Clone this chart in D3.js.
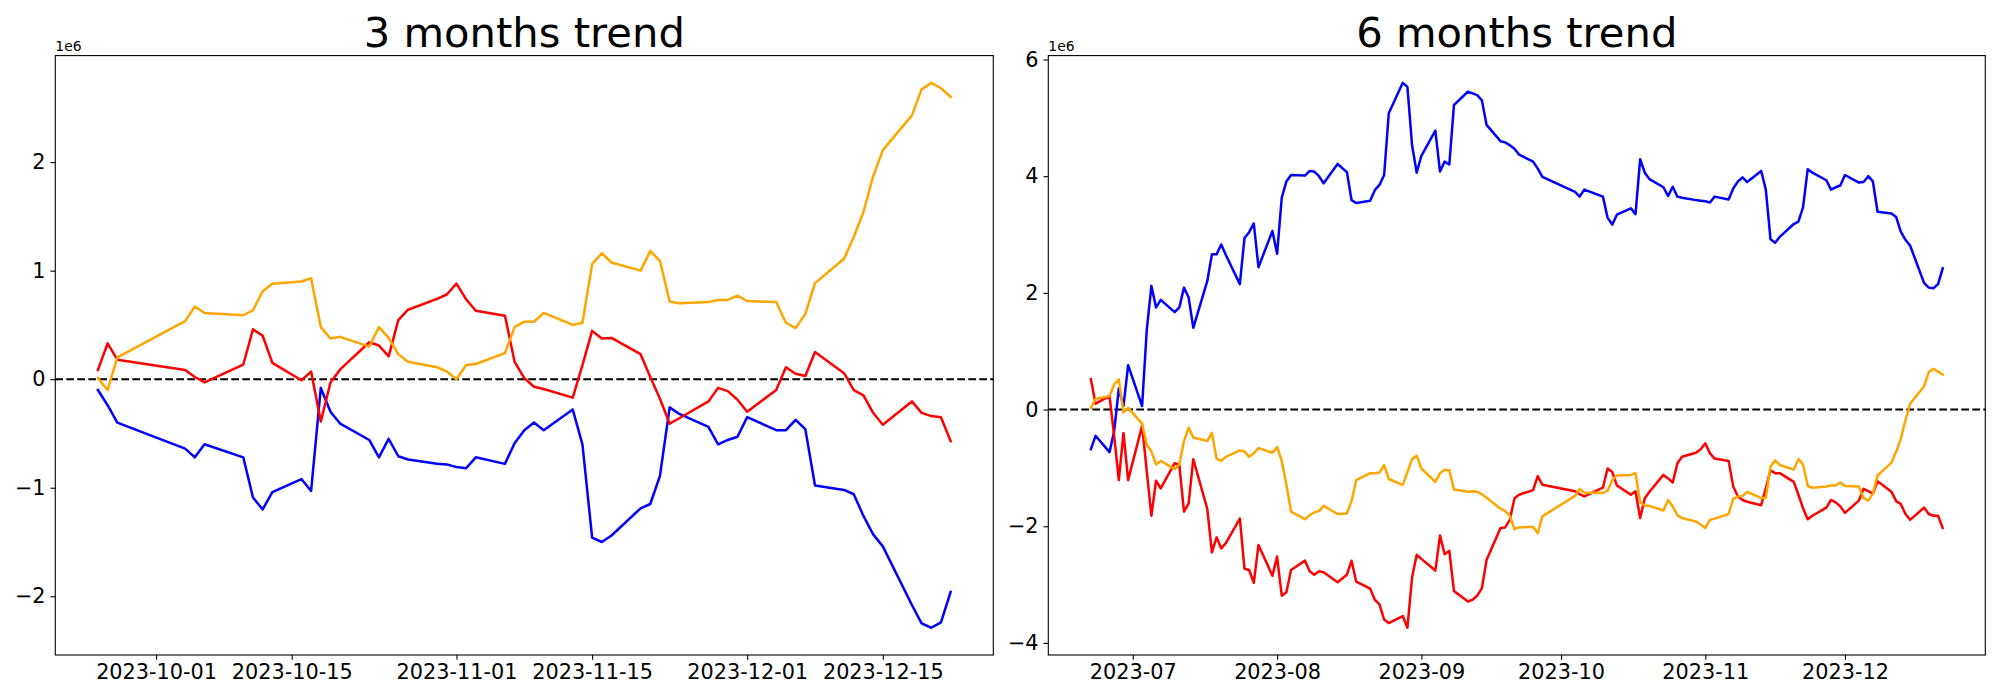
<!DOCTYPE html>
<html><head><meta charset="utf-8">
<script src="https://cdn.jsdelivr.net/npm/d3@7"></script>
<style>
body{margin:0;background:#fff}
svg{display:block}
text{font-family:"DejaVu Sans",sans-serif;fill:#000}
</style>
</head><body>
<svg id="chart" width="2000" height="700"></svg>
<script>
// ---------- DATA (values in units of 1e6) ----------
const dates3 = ["2023-09-25","2023-09-26","2023-09-27",
"2023-10-04","2023-10-05","2023-10-06","2023-10-10","2023-10-11","2023-10-12","2023-10-13","2023-10-16","2023-10-17","2023-10-18","2023-10-19","2023-10-20","2023-10-23","2023-10-24","2023-10-25","2023-10-26","2023-10-27","2023-10-30","2023-10-31",
"2023-11-01","2023-11-02","2023-11-03","2023-11-06","2023-11-07","2023-11-08","2023-11-09","2023-11-10","2023-11-13","2023-11-14","2023-11-15","2023-11-16","2023-11-17","2023-11-20","2023-11-21","2023-11-22","2023-11-23","2023-11-24","2023-11-27","2023-11-28","2023-11-29","2023-11-30",
"2023-12-01","2023-12-04","2023-12-05","2023-12-06","2023-12-07","2023-12-08","2023-12-11","2023-12-12","2023-12-13","2023-12-14","2023-12-15","2023-12-18","2023-12-19","2023-12-20","2023-12-21","2023-12-22"];
const blue3 = [-0.10,-0.24,-0.40,
-0.64,-0.72,-0.60,-0.72,-1.09,-1.20,-1.04,-0.92,-1.03,-0.08,-0.30,-0.41,-0.56,-0.72,-0.55,-0.71,-0.74,-0.78,-0.785,
-0.81,-0.82,-0.72,-0.78,-0.59,-0.47,-0.40,-0.47,-0.28,-0.60,-1.46,-1.50,-1.44,-1.19,-1.15,-0.89,-0.26,-0.32,-0.44,-0.60,-0.56,-0.53,
-0.35,-0.47,-0.47,-0.375,-0.46,-0.98,-1.02,-1.06,-1.26,-1.43,-1.54,-2.08,-2.25,-2.29,-2.24,-1.96];
const red3 = [0.085,0.33,0.18,
0.085,0.02,-0.03,0.135,0.46,0.40,0.15,-0.01,0.07,-0.39,-0.03,0.09,0.34,0.31,0.21,0.545,0.64,0.74,0.78,
0.88,0.735,0.63,0.585,0.16,0.01,-0.07,-0.09,-0.17,0.13,0.445,0.375,0.38,0.23,0.02,-0.18,-0.41,-0.36,-0.205,-0.08,-0.11,-0.19,
-0.30,-0.10,0.11,0.05,0.03,0.25,0.055,-0.10,-0.15,-0.31,-0.42,-0.205,-0.31,-0.34,-0.35,-0.57];
const orange3 = [0.01,-0.10,0.20,
0.535,0.67,0.61,0.59,0.635,0.81,0.88,0.90,0.93,0.48,0.375,0.39,0.30,0.48,0.38,0.23,0.16,0.11,0.07,
0.00,0.13,0.14,0.24,0.48,0.53,0.53,0.61,0.50,0.52,1.06,1.16,1.075,1.00,1.18,1.09,0.715,0.70,0.71,0.73,0.73,0.77,
0.72,0.71,0.52,0.47,0.60,0.885,1.11,1.31,1.54,1.87,2.11,2.43,2.67,2.73,2.68,2.60];

const dates6 = ["2023-06-22","2023-06-23","2023-06-26","2023-06-27","2023-06-28","2023-06-29","2023-06-30",
"2023-07-03","2023-07-04","2023-07-05","2023-07-06","2023-07-07","2023-07-10","2023-07-11","2023-07-12","2023-07-13","2023-07-14","2023-07-17","2023-07-18","2023-07-19","2023-07-20","2023-07-21","2023-07-24","2023-07-25","2023-07-26","2023-07-27","2023-07-28","2023-07-31",
"2023-08-01","2023-08-02","2023-08-03","2023-08-04","2023-08-07","2023-08-08","2023-08-09","2023-08-10","2023-08-11","2023-08-14","2023-08-16","2023-08-17","2023-08-18","2023-08-21","2023-08-22","2023-08-23","2023-08-24","2023-08-25","2023-08-28","2023-08-29","2023-08-30","2023-08-31",
"2023-09-01","2023-09-04","2023-09-05","2023-09-06","2023-09-07","2023-09-08","2023-09-11","2023-09-12","2023-09-13","2023-09-14","2023-09-15","2023-09-18","2023-09-19","2023-09-20","2023-09-21","2023-09-22","2023-09-25","2023-09-26","2023-09-27",
"2023-10-04","2023-10-05","2023-10-06","2023-10-10","2023-10-11","2023-10-12","2023-10-13","2023-10-16","2023-10-17","2023-10-18","2023-10-19","2023-10-20","2023-10-23","2023-10-24","2023-10-25","2023-10-26","2023-10-27","2023-10-30","2023-10-31",
"2023-11-01","2023-11-02","2023-11-03","2023-11-06","2023-11-07","2023-11-08","2023-11-09","2023-11-10","2023-11-13","2023-11-14","2023-11-15","2023-11-16","2023-11-17","2023-11-20","2023-11-21","2023-11-22","2023-11-23","2023-11-24","2023-11-27","2023-11-28","2023-11-29","2023-11-30",
"2023-12-01","2023-12-04","2023-12-05","2023-12-06","2023-12-07","2023-12-08","2023-12-11","2023-12-12","2023-12-13","2023-12-14","2023-12-15","2023-12-18","2023-12-19","2023-12-20","2023-12-21","2023-12-22"];
const blue6 = [-0.68,-0.45,-0.73,-0.37,0.36,0.06,0.76,
0.06,1.36,2.12,1.75,1.88,1.67,1.75,2.09,1.92,1.40,2.20,2.66,2.66,2.83,2.65,2.15,2.94,3.04,3.19,2.44,3.06,
2.67,3.63,3.91,4.02,4.01,4.09,4.08,4.00,3.88,4.21,4.07,3.59,3.54,3.58,3.76,3.85,4.02,5.08,5.60,5.53,4.53,4.06,
4.35,4.78,4.08,4.25,4.20,5.22,5.45,5.42,5.39,5.30,4.88,4.60,4.58,4.53,4.47,4.37,4.25,4.13,3.99,
3.73,3.65,3.77,3.65,3.29,3.17,3.34,3.45,3.35,4.29,4.06,3.95,3.81,3.66,3.82,3.65,3.63,3.59,3.58,
3.57,3.55,3.65,3.60,3.79,3.91,3.98,3.90,4.09,3.77,2.92,2.86,2.96,3.18,3.22,3.47,4.12,4.06,3.93,3.77,3.81,3.84,
4.02,3.89,3.90,4.00,3.91,3.39,3.36,3.30,3.05,2.91,2.81,2.17,2.09,2.08,2.15,2.42];
const red6 = [0.52,0.10,0.23,-0.45,-1.21,-0.40,-1.21,
-0.28,-1.05,-1.82,-1.22,-1.35,-0.92,-0.95,-1.75,-1.61,-0.85,-1.70,-2.45,-2.19,-2.38,-2.29,-1.87,-2.73,-2.75,-2.97,-2.32,-2.85,
-2.52,-3.19,-3.13,-2.75,-2.59,-2.77,-2.83,-2.77,-2.79,-2.96,-2.83,-2.59,-2.95,-3.07,-3.26,-3.34,-3.60,-3.66,-3.54,-3.74,-2.88,-2.49,
-2.56,-2.76,-2.16,-2.48,-2.42,-3.11,-3.29,-3.26,-3.19,-3.06,-2.58,-2.03,-2.02,-1.89,-1.52,-1.46,-1.38,-1.14,-1.29,
-1.40,-1.45,-1.49,-1.34,-1.01,-1.07,-1.30,-1.46,-1.40,-1.86,-1.52,-1.41,-1.12,-1.18,-1.25,-0.92,-0.81,-0.74,-0.68,
-0.58,-0.75,-0.84,-0.88,-1.32,-1.49,-1.55,-1.58,-1.64,-1.35,-1.04,-1.09,-1.09,-1.24,-1.46,-1.69,-1.88,-1.82,-1.68,-1.55,-1.59,-1.66,
-1.77,-1.56,-1.36,-1.40,-1.44,-1.23,-1.41,-1.57,-1.62,-1.79,-1.89,-1.68,-1.79,-1.82,-1.82,-2.03];
const orange6 = [0.03,0.18,0.23,0.43,0.52,-0.05,0.03,
-0.24,-0.60,-0.72,-0.94,-0.88,-1.02,-0.94,-0.54,-0.31,-0.48,-0.54,-0.40,-0.84,-0.88,-0.81,-0.70,-0.72,-0.81,-0.75,-0.66,-0.74,
-0.64,-0.88,-1.29,-1.75,-1.88,-1.81,-1.76,-1.74,-1.65,-1.79,-1.78,-1.57,-1.21,-1.09,-1.09,-1.08,-0.95,-1.19,-1.29,-1.07,-0.85,-0.79,
-1.01,-1.24,-1.09,-1.03,-1.04,-1.37,-1.41,-1.40,-1.41,-1.45,-1.51,-1.70,-1.74,-1.82,-2.05,-2.02,-2.01,-2.12,-1.83,
-1.48,-1.36,-1.42,-1.43,-1.39,-1.21,-1.13,-1.12,-1.09,-1.59,-1.65,-1.65,-1.73,-1.55,-1.66,-1.81,-1.86,-1.92,-1.97,
-2.03,-1.89,-1.87,-1.79,-1.53,-1.49,-1.48,-1.41,-1.52,-1.51,-0.98,-0.87,-0.95,-1.03,-0.85,-0.94,-1.31,-1.34,-1.32,-1.30,-1.30,-1.25,
-1.31,-1.32,-1.52,-1.56,-1.44,-1.13,-0.91,-0.72,-0.50,-0.18,0.10,0.40,0.64,0.70,0.65,0.60];

const xTicks3 = ["2023-10-01","2023-10-15","2023-11-01","2023-11-15","2023-12-01","2023-12-15"];
const xTicks6 = ["2023-07-01","2023-08-01","2023-09-01","2023-10-01","2023-11-01","2023-12-01"];
const yTicks3 = [-2,-1,0,1,2];
const yTicks6 = [-4,-2,0,2,4,6];
const titles = ["3 months trend","6 months trend"];
const seriesColors = ["#0000ff","#ff0000","#ffa500"];
const offsetLabel = "1e6";

// ---------- DRAW ----------
const parse = d3.utcParse("%Y-%m-%d");
const svg = d3.select("#chart");
const TOP = 55.6, BOTTOM = 655;

function pad(ext){ const r = ext[1]-ext[0]; return [ext[0]-0.05*r, ext[1]+0.05*r]; }
const fmtY = d => d < 0 ? "\u2212" + Math.abs(d) : String(d);

function panel(o){
  const dts = o.dates.map(parse);
  const allV = o.series.flat();
  const xd = pad(d3.extent(dts, d => +d));
  const x = d3.scaleUtc().domain([new Date(xd[0]), new Date(xd[1])]).range([o.left, o.right]);
  const y = d3.scaleLinear().domain(pad(d3.extent(allV))).range([BOTTOM, TOP]);
  const g = svg.append("g");

  // zero line
  g.append("line")
    .attr("x1", o.left).attr("x2", o.right)
    .attr("y1", y(0)).attr("y2", y(0))
    .attr("stroke","#000").attr("stroke-width",2.08)
    .attr("stroke-dasharray","7.7,3.3");

  const line = d3.line().x((d,i)=>x(dts[i])).y(d=>y(d));
  o.series.forEach((s,k)=>{
    g.append("path").datum(s).attr("d", line)
      .attr("fill","none").attr("stroke", seriesColors[k])
      .attr("stroke-width",2.5).attr("stroke-linejoin","round").attr("stroke-linecap","square");
  });

  // axes
  const xa = d3.axisBottom(x).tickValues(o.xTicks.map(parse)).tickFormat(d3.utcFormat(o.xFmt))
    .tickSize(4.86).tickPadding(4.86).tickSizeOuter(0);
  const gx = g.append("g").attr("transform",`translate(0,${BOTTOM})`).call(xa);
  const ya = d3.axisLeft(y).tickValues(o.yTicks).tickFormat(fmtY)
    .tickSize(4.86).tickPadding(4.86).tickSizeOuter(0);
  const gy = g.append("g").attr("transform",`translate(${o.left},0)`).call(ya);
  [gx,gy].forEach(a=>{
    a.select(".domain").remove();
    a.selectAll("line").attr("stroke","#000").attr("stroke-width",1.1);
    a.selectAll("text").attr("font-size","20.8px").attr("font-family","DejaVu Sans").attr("fill","#000");
  });

  // frame
  g.append("rect").attr("x",o.left).attr("y",TOP).attr("width",o.right-o.left).attr("height",BOTTOM-TOP)
    .attr("fill","none").attr("stroke","#000").attr("stroke-width",1.1);

  // title
  g.append("text").attr("x",(o.left+o.right)/2).attr("y",47)
    .attr("text-anchor","middle").attr("font-size","41.7px").text(o.title);
  // offset
  g.append("text").attr("x",o.left).attr("y",51).attr("font-size","13.9px").text(offsetLabel);
}

panel({left:55.3,right:993.3,dates:dates3,series:[blue3,red3,orange3],xTicks:xTicks3,xFmt:"%Y-%m-%d",yTicks:yTicks3,title:titles[0]});
panel({left:1048.3,right:1985.3,dates:dates6,series:[blue6,red6,orange6],xTicks:xTicks6,xFmt:"%Y-%m",yTicks:yTicks6,title:titles[1]});
</script>
</body></html>
